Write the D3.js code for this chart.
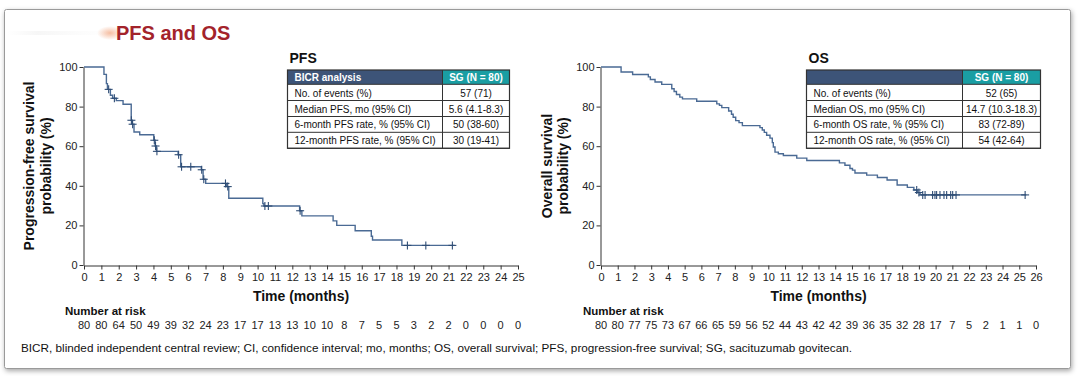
<!DOCTYPE html>
<html>
<head>
<meta charset="utf-8">
<script src="https://cdn.jsdelivr.net/npm/d3@7"></script>
<style>
  html, body { margin: 0; padding: 0; background: #ffffff; }
  svg { display: block; font-family: "Liberation Sans", Arial, sans-serif; }
</style>
</head>
<body>
<svg id="chart" width="1080" height="376"></svg>
<script>
// ---------------- DATA ----------------
const titleText = "PFS and OS";

// PFS Kaplan-Meier steps [time (months), survival %]
const pfsSteps = [[0,100],[1.15,96.3],[1.29,91.6],[1.35,88.7],[1.52,85.7],[1.65,84.2],[1.86,83.0],[2.25,81.2],
  [2.72,73.1],[2.78,71.1],[2.88,67.2],[3.21,65.8],[4.02,63.0],[4.1,60.1],[4.17,57.4],[5.42,55.7],[5.57,49.6],
  [6.76,48.1],[6.86,43.3],[7.01,41.2],[8.22,39.6],[8.34,33.7],[10.3,31.0],[10.36,29.8],[12.42,27.4],[12.55,24.8],
  [14.35,22.3],[14.56,20.0],[15.62,17.3],[16.55,14.5],[16.62,12.6],[18.31,9.9]];
const pfsEnd = 21.35;
const pfsCensors = [[1.42,88.7],[1.75,84.2],[2.73,73.1],[2.8,71.1],[4.05,63.0],[4.12,60.1],[4.2,57.4],[5.45,55.7],
  [5.62,49.6],[6.15,49.6],[6.78,48.1],[6.9,43.3],[8.15,41.2],[8.28,39.6],[10.42,29.8],[10.62,29.8],[12.45,27.4],
  [18.63,9.9],[19.69,9.9],[21.22,9.9]];
const pfsAtRisk = [80,80,64,50,49,39,32,24,23,17,17,13,13,10,10,8,7,5,5,3,2,2,0,0,0,0];

// OS Kaplan-Meier steps
const osSteps = [[0,100],[1.2,97.5],[1.89,96.2],[2.83,95.0],[2.95,93.7],[3.23,92.4],[3.63,91.2],[4.23,89.0],
  [4.37,87.6],[4.51,86.1],[4.71,84.8],[4.87,83.9],[5.72,82.7],[6.92,81.4],[7.08,80.6],[7.22,79.5],[7.63,77.8],
  [7.8,76.1],[7.9,74.6],[8.05,72.9],[8.25,71.9],[8.45,70.4],[9.5,69.4],[9.64,68.2],[9.76,67.0],[9.9,65.5],
  [10.1,64.1],[10.24,61.8],[10.3,59.6],[10.4,57.0],[10.6,56.2],[10.9,55.3],[11.7,54.0],[12.3,52.8],[14.25,51.6],
  [14.58,50.4],[14.88,48.7],[15.03,47.9],[15.18,46.5],[15.88,45.4],[16.52,44.2],[17.1,42.9],[17.7,40.4],
  [18.31,39.2],[18.7,37.9],[18.9,36.6],[19.07,35.4]];
const osEnd = 25.42;
const osCensors = [[18.87,37.9],[19.0,36.6],[19.23,35.4],[19.37,35.4],[19.82,35.4],[19.96,35.4],[20.06,35.4],
  [20.26,35.4],[20.5,35.4],[20.66,35.4],[20.9,35.4],[21.02,35.4],[21.22,35.4],[25.35,35.4]];
const osAtRisk = [80,80,77,75,73,67,66,65,59,56,52,44,43,42,42,39,36,35,32,28,17,7,5,2,1,1,0];

const yTicks = [0,20,40,60,80,100];
const pfsXTicks = d3.range(0, 26);
const osXTicks = d3.range(0, 27);

const pfsTableTitle = "PFS";
const pfsHeader = ["BICR analysis", "SG (N = 80)"];
const pfsRowLabels = ["No. of events (%)", "Median PFS, mo (95% CI)", "6-month PFS rate, % (95% CI)", "12-month PFS rate, % (95% CI)"];
const pfsRowValues = ["57 (71)", "5.6 (4.1-8.3)", "50 (38-60)", "30 (19-41)"];

const osTableTitle = "OS";
const osHeader = ["", "SG (N = 80)"];
const osRowLabels = ["No. of events (%)", "Median OS, mo (95% CI)", "6-month OS rate, % (95% CI)", "12-month OS rate, % (95% CI)"];
const osRowValues = ["52 (65)", "14.7 (10.3-18.3)", "83 (72-89)", "54 (42-64)"];

const footnote = "BICR, blinded independent central review; CI, confidence interval; mo, months; OS, overall survival; PFS, progression-free survival; SG, sacituzumab govitecan.";

// ---------------- DRAW ----------------
const svg = d3.select("#chart");
const defs = svg.append("defs");
const f = defs.append("filter").attr("id","shadow").attr("x","-5%").attr("y","-5%").attr("width","110%").attr("height","115%");
f.append("feDropShadow").attr("dx",1).attr("dy",2).attr("stdDeviation",2.5).attr("flood-color","#000").attr("flood-opacity",0.35);
const rg = defs.append("radialGradient").attr("id","glow");
rg.append("stop").attr("offset","0%").attr("stop-color","#f2a27a").attr("stop-opacity",0.7);
rg.append("stop").attr("offset","100%").attr("stop-color","#f2a27a").attr("stop-opacity",0);
const lg = defs.append("linearGradient").attr("id","streak");
lg.append("stop").attr("offset","0%").attr("stop-color","#e2e2e2").attr("stop-opacity",0);
lg.append("stop").attr("offset","30%").attr("stop-color","#e2e2e2").attr("stop-opacity",0.3);
lg.append("stop").attr("offset","100%").attr("stop-color","#eeeeee").attr("stop-opacity",0.05);

// frame
svg.append("rect").attr("x",4.5).attr("y",9.5).attr("width",1066).attr("height",359)
  .attr("rx",2).attr("fill","#fff").attr("stroke","#9a9a9a").attr("stroke-width",1)
  .attr("filter","url(#shadow)");

// title decorations
svg.append("rect").attr("x",8).attr("y",31).attr("width",100).attr("height",4).attr("fill","url(#streak)");
svg.append("ellipse").attr("cx",110).attr("cy",33).attr("rx",13).attr("ry",7).attr("fill","url(#glow)");
svg.append("text").attr("x",116).attr("y",40).text(titleText)
  .attr("font-size",20).attr("font-weight","bold").attr("fill","#a3232b");

const lineColor = "#4a6a94";
const censorColor = "#2f4d75";
const yScale = d3.scaleLinear().domain([0,100]).range([265,67]);

function drawPanel(opts) {
  const x = d3.scaleLinear().domain(opts.xDomain).range(opts.xRange);
  const g = svg.append("g");
  // axes
  const ya = g.append("g").attr("transform",`translate(${opts.xRange[0]-0.5},0)`)
    .call(d3.axisLeft(yScale).tickValues(yTicks).tickSize(4).tickPadding(2).tickSizeOuter(0));
  const xa = g.append("g").attr("transform",`translate(0,265.5)`)
    .call(d3.axisBottom(x).tickValues(opts.xTicks).tickSize(4).tickPadding(4).tickSizeOuter(0));
  [ya, xa].forEach(a => {
    a.selectAll("path, line").attr("stroke","#333").attr("stroke-width",1);
    a.selectAll("text").attr("font-size",11).attr("fill","#222").attr("font-family","Liberation Sans, Arial, sans-serif");
  });
  // curve
  const pts = opts.steps.concat([[opts.end, opts.steps[opts.steps.length-1][1]]]);
  const line = d3.line().x(d => x(d[0])).y(d => yScale(d[1])).curve(d3.curveStepAfter);
  g.append("path").datum(pts).attr("d", line).attr("fill","none")
    .attr("stroke", lineColor).attr("stroke-width",1.4);
  // censors
  const cs = g.selectAll(".c").data(opts.censors).enter().append("g")
    .attr("transform", d => `translate(${x(d[0])},${yScale(d[1])})`);
  cs.append("line").attr("x1",-4).attr("x2",4).attr("y1",0).attr("y2",0).attr("stroke",censorColor).attr("stroke-width",1.1);
  cs.append("line").attr("x1",0).attr("x2",0).attr("y1",-4).attr("y2",4).attr("stroke",censorColor).attr("stroke-width",1.1);
  // axis titles
  const midX = (opts.xRange[0]+opts.xRange[1])/2;
  g.append("text").attr("x", midX).attr("y",301).attr("text-anchor","middle")
    .attr("font-size",14).attr("font-weight","bold").attr("fill","#111").text("Time (months)");
  opts.yTitle.forEach((t,i) => {
    g.append("text").attr("transform",`translate(${opts.yTitleX[i]},166) rotate(-90)`)
      .attr("text-anchor","middle").attr("font-size",14).attr("font-weight","bold").attr("fill","#111").text(t);
  });
  // number at risk
  g.append("text").attr("x", opts.riskLabelX).attr("y",315).attr("font-size",11.5).attr("font-weight","bold")
    .attr("fill","#111").text("Number at risk");
  g.selectAll(".r").data(opts.atRisk).enter().append("text")
    .attr("x",(d,i) => x(opts.xTicks[i])).attr("y",328.5).attr("text-anchor","middle")
    .attr("font-size",11).attr("fill","#222").text(d => d);
  // table
  const T = opts.table;
  g.append("text").attr("x",T.x0+2).attr("y",62.5).attr("font-size",14).attr("font-weight","bold").attr("fill","#111").text(T.title);
  const rowsY = [70, 84.3, 100.5, 116.5, 132.3, 148.3];
  g.append("rect").attr("x",T.x0).attr("y",rowsY[0]).attr("width",T.xs-T.x0).attr("height",rowsY[1]-rowsY[0]).attr("fill","#3d5478");
  g.append("rect").attr("x",T.xs).attr("y",rowsY[0]).attr("width",T.x1-T.xs).attr("height",rowsY[1]-rowsY[0]).attr("fill","#1a9ea3");
  g.append("text").attr("x",T.x0+7).attr("y",rowsY[1]-3.6).attr("font-size",10).attr("font-weight","bold").attr("fill","#fff").text(T.header[0]);
  g.append("text").attr("x",(T.xs+T.x1)/2).attr("y",rowsY[1]-3.6).attr("text-anchor","middle").attr("font-size",10).attr("font-weight","bold").attr("fill","#fff").text(T.header[1]);
  T.labels.forEach((lab,i) => {
    g.append("text").attr("x",T.x0+7).attr("y",rowsY[i+2]-4).attr("font-size",10).attr("fill","#111").text(lab);
    g.append("text").attr("x",(T.xs+T.x1)/2).attr("y",rowsY[i+2]-4).attr("text-anchor","middle").attr("font-size",10).attr("fill","#111").text(T.values[i]);
  });
  // grid lines
  rowsY.slice(1).forEach(yy => g.append("line").attr("x1",T.x0).attr("x2",T.x1).attr("y1",yy).attr("y2",yy).attr("stroke","#333").attr("stroke-width",1));
  g.append("rect").attr("x",T.x0).attr("y",rowsY[0]).attr("width",T.x1-T.x0).attr("height",rowsY[5]-rowsY[0])
    .attr("fill","none").attr("stroke","#333").attr("stroke-width",1.2);
  g.append("line").attr("x1",T.xs).attr("x2",T.xs).attr("y1",rowsY[0]).attr("y2",rowsY[5]).attr("stroke","#333").attr("stroke-width",1);
}

drawPanel({
  xDomain:[0,25], xRange:[84,518], xTicks:pfsXTicks, steps:pfsSteps, end:pfsEnd, censors:pfsCensors,
  yTitle:["Progression-free survival","probability (%)"], yTitleX:[34,51],
  riskLabelX:65, atRisk:pfsAtRisk,
  table:{x0:287.5, xs:442.5, x1:509.5, title:pfsTableTitle, header:pfsHeader, labels:pfsRowLabels, values:pfsRowValues}
});
drawPanel({
  xDomain:[0,26], xRange:[601,1036], xTicks:osXTicks, steps:osSteps, end:osEnd, censors:osCensors,
  yTitle:["Overall survival","probability (%)"], yTitleX:[552,568],
  riskLabelX:583, atRisk:osAtRisk,
  table:{x0:806.5, xs:962.5, x1:1040.5, title:osTableTitle, header:osHeader, labels:osRowLabels, values:osRowValues}
});

svg.append("text").attr("x",21).attr("y",352).attr("font-size",11).attr("fill","#111")
  .attr("textLength",831).attr("lengthAdjust","spacingAndGlyphs").text(footnote);
</script>
</body>
</html>
